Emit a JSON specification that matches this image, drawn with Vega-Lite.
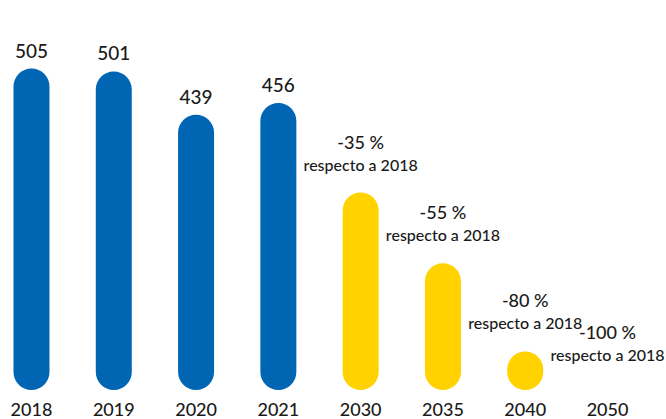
{
  "$schema": "https://vega.github.io/schema/vega-lite/v6.json",
  "autosize": {"type": "none"},
  "width": 639,
  "height": 390,
  "padding": {"left": 0, "top": 0, "right": 27, "bottom": 29},
  "background": "white",
  "title": {
    "text": "(kt CO₂ eq)",
    "anchor": "start",
    "frame": "group",
    "orient": "top",
    "offset": 0,
    "baseline": "alphabetic",
    "dy": 3,
    "dx": 525,
    "font": "Lato",
    "fontSize": 16,
    "fontWeight": "normal",
    "color": "#0066b3"
  },
  "data": {
    "values": [
      {"year": "2018", "value": 505, "type": "real", "label": "505", "note": ""},
      {"year": "2019", "value": 501, "type": "real", "label": "501", "note": ""},
      {"year": "2020", "value": 439, "type": "real", "label": "439", "note": ""},
      {"year": "2021", "value": 456, "type": "real", "label": "456", "note": ""},
      {"year": "2030", "value": 328, "type": "objetivo", "label": "-35 %", "note": "respecto a 2018"},
      {"year": "2035", "value": 227, "type": "objetivo", "label": "-55 %", "note": "respecto a 2018"},
      {"year": "2040", "value": 101, "type": "objetivo", "label": "-80 %", "note": "respecto a 2018"},
      {"year": "2050", "value": 0, "type": "objetivo", "label": "-100 %", "note": "respecto a 2018"}
    ]
  },
  "encoding": {
    "x": {
      "field": "year",
      "type": "ordinal",
      "sort": null,
      "scale": {"paddingInner": 0.5626, "paddingOuter": 0.164},
      "axis": {
        "title": null,
        "domain": false,
        "ticks": false,
        "labelAngle": 0,
        "labelFont": "Lato",
        "labelFontSize": 18,
        "labelFontWeight": 500,
        "labelColor": "#1a1a1a",
        "labelPadding": 11
      }
    }
  },
  "layer": [
    {
      "transform": [{"filter": "datum.value > 0"}],
      "mark": {"type": "bar", "cornerRadius": 18},
      "encoding": {
        "y": {
          "field": "value",
          "type": "quantitative",
          "scale": {"domain": [46, 603], "zero": false, "nice": false},
          "axis": null
        },
        "y2": {"datum": 46},
        "color": {
          "field": "type",
          "type": "nominal",
          "scale": {"domain": ["real", "objetivo"], "range": ["#0066b3", "#ffd200"]},
          "legend": null
        }
      }
    },
    {
      "transform": [{"filter": "datum.type == 'real'"}],
      "mark": {"type": "text", "baseline": "alphabetic", "dy": -11, "font": "Lato", "fontSize": 19, "fontWeight": 500, "color": "#1a1a1a"},
      "encoding": {
        "y": {"field": "value", "type": "quantitative"},
        "text": {"field": "label"}
      }
    },
    {
      "transform": [{"filter": "datum.type == 'objetivo' && datum.value > 0"}],
      "mark": {"type": "text", "baseline": "alphabetic", "dy": -44, "font": "Lato", "fontSize": 18, "fontWeight": 500, "color": "#1a1a1a"},
      "encoding": {
        "y": {"field": "value", "type": "quantitative"},
        "text": {"field": "label"}
      }
    },
    {
      "transform": [{"filter": "datum.type == 'objetivo' && datum.value > 0"}],
      "mark": {"type": "text", "baseline": "alphabetic", "dy": -22, "font": "Lato", "fontSize": 16, "fontWeight": 500, "color": "#1a1a1a"},
      "encoding": {
        "y": {"field": "value", "type": "quantitative"},
        "text": {"field": "note"}
      }
    },
    {
      "transform": [{"filter": "datum.value == 0"}],
      "mark": {"type": "text", "baseline": "alphabetic", "dy": -44, "font": "Lato", "fontSize": 18, "fontWeight": 500, "color": "#1a1a1a"},
      "encoding": {
        "y": {"datum": 56},
        "text": {"field": "label"}
      }
    },
    {
      "transform": [{"filter": "datum.value == 0"}],
      "mark": {"type": "text", "baseline": "alphabetic", "dy": -22, "font": "Lato", "fontSize": 16, "fontWeight": 500, "color": "#1a1a1a"},
      "encoding": {
        "y": {"datum": 56},
        "text": {"field": "note"}
      }
    }
  ],
  "config": {"view": {"stroke": null}}
}
